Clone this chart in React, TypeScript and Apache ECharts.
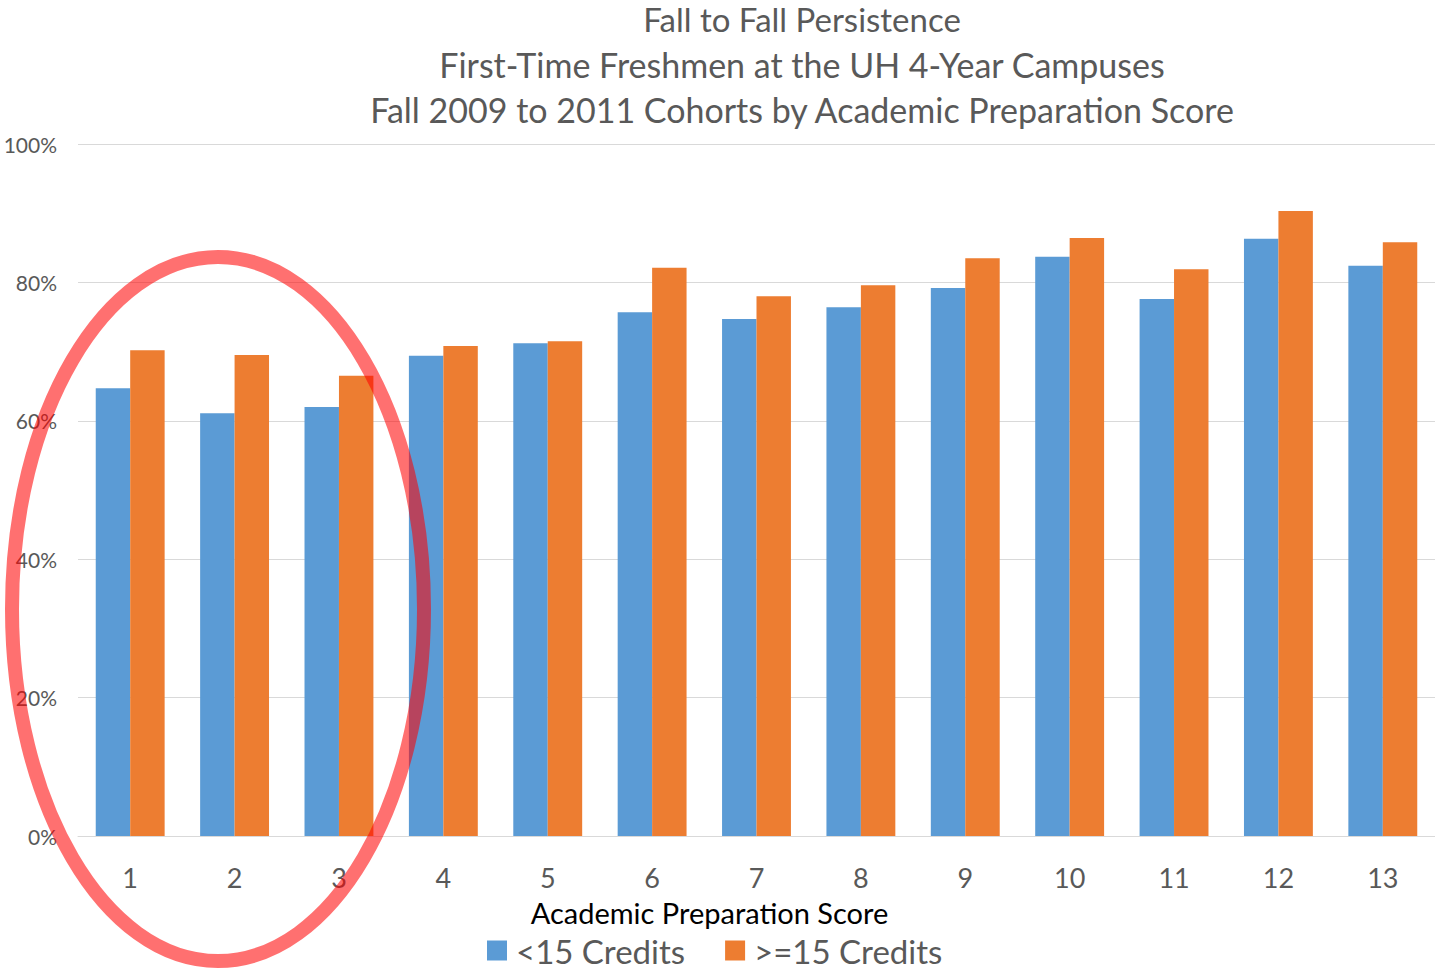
import React, { useEffect, useRef } from "react";
import * as echarts from "echarts";

const categories = ["1", "2", "3", "4", "5", "6", "7", "8", "9", "10", "11", "12", "13"];
const under15 = [64.7, 61.1, 62.0, 69.4, 71.2, 75.7, 74.7, 76.4, 79.2, 83.7, 77.6, 86.3, 82.4];
const over15 = [70.2, 69.5, 66.5, 70.8, 71.5, 82.1, 78.0, 79.6, 83.5, 86.4, 81.9, 90.3, 85.8];
const seriesNames = ["<15 Credits", ">=15 Credits"];
const titleLines = [
  "Fall to Fall Persistence",
  "First-Time Freshmen at the UH 4-Year Campuses",
  "Fall 2009 to 2011 Cohorts by Academic Preparation Score",
];
const xAxisTitle = "Academic Preparation Score";

const FONT = "Lato, 'Open Sans', sans-serif";

export default function App() {
  const ref = useRef<HTMLDivElement>(null);
  useEffect(() => {
    if (!ref.current) return;
    const chart = echarts.init(ref.current, null, { renderer: "svg" });
    const titleTops = [2, 47, 92];
    chart.setOption({
      animation: false,
      backgroundColor: "#ffffff",
      title: titleLines.map((t, i) => ({
        text: t,
        left: 802,
        top: titleTops[i],
        padding: 0,
        textAlign: "center",
        textStyle: {
          fontFamily: FONT,
          fontSize: i === 0 ? 33 : 34,
          fontWeight: "normal",
          color: "#595959",
          lineHeight: 34,
        },
      })),
      legend: {
        data: seriesNames,
        left: 487,
        top: 934,
        padding: 0,
        itemWidth: 20,
        itemHeight: 20,
        itemGap: 40,
        icon: "rect",
        textStyle: {
          fontFamily: FONT,
          fontSize: 33,
          lineHeight: 30,
          color: "#595959",
          padding: [0, 0, 0, 4],
        },
      },
      grid: { left: 78, right: 0, top: 144, bottom: 134, containLabel: false },
      xAxis: {
        type: "category",
        data: categories,
        name: xAxisTitle,
        nameLocation: "middle",
        nameGap: 62,
        nameTextStyle: { fontFamily: FONT, fontSize: 29, color: "#000000", padding: [0, 94, 0, 0] },
        axisLine: { show: true, lineStyle: { color: "#d9d9d9", width: 1 } },
        axisTick: { show: false },
        axisLabel: { fontFamily: FONT, fontSize: 27, color: "#595959", margin: 28 },
      },
      yAxis: {
        type: "value",
        min: 0,
        max: 100,
        interval: 20,
        axisLine: { show: false },
        axisTick: { show: false },
        axisLabel: { formatter: "{value}%", fontFamily: FONT, fontSize: 21, color: "#595959", margin: 21 },
        splitLine: { lineStyle: { color: "#d9d9d9", width: 1 } },
      },
      series: [
        {
          name: seriesNames[0],
          type: "bar",
          data: under15,
          itemStyle: { color: "#5B9BD5" },
          barGap: "0%",
          barCategoryGap: "34%",
        },
        {
          name: seriesNames[1],
          type: "bar",
          data: over15,
          itemStyle: { color: "#ED7D31" },
          barGap: "0%",
          barCategoryGap: "34%",
        },
      ],
      graphic: [
        {
          type: "ellipse",
          z: 100,
          shape: { cx: 218, cy: 609, rx: 206, ry: 352 },
          style: { fill: "none", stroke: "rgba(255,0,0,0.56)", lineWidth: 14 },
        },
      ],
    });
    return () => chart.dispose();
  }, []);
  return (
    <div
      ref={ref}
      style={{ position: "fixed", left: 0, top: 0, width: 1435, height: 970 }}
    />
  );
}
